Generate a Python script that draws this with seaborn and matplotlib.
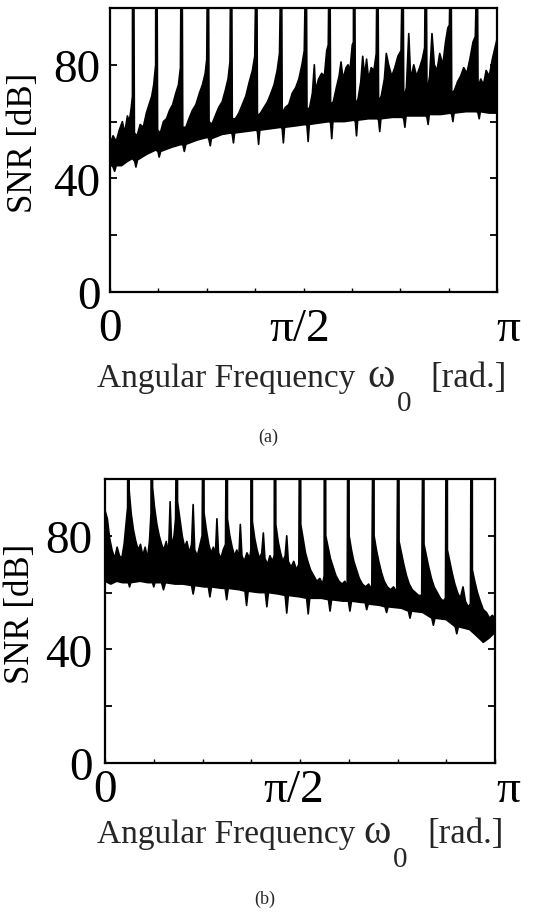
import numpy as np
import matplotlib
matplotlib.use("Agg")
import matplotlib.pyplot as plt
import seaborn as sns
from matplotlib.transforms import ScaledTranslation, IdentityTransform

sns.set_style("ticks")
plt.rcParams['font.family'] = ['Liberation Serif', 'DejaVu Serif']

# ---------------- data (x in units of pi, y in dB) ----------------
y_ticks = [0, 20, 40, 60, 80, 100]
y_tick_labels = ['0', '', '40', '', '80', '']
x_ticks = [0, 0.125, 0.25, 0.375, 0.5, 0.625, 0.75, 0.875, 1.0]
x_tick_labels = ['0', '', '', '', 'π/2', '', '', '', 'π']

# panel (a)
a_spikes = [0.060, 0.120, 0.185, 0.253, 0.313, 0.378, 0.442, 0.506, 0.567,
            0.631, 0.691, 0.756, 0.816, 0.880, 0.948]
a_upper_x = [0.000, 0.008, 0.016, 0.024, 0.032, 0.038, 0.045, 0.050, 0.055, 0.058,
             0.063, 0.070, 0.078, 0.086, 0.094, 0.101, 0.108, 0.113, 0.116, 0.118,
             0.123, 0.130, 0.138, 0.146, 0.154, 0.162, 0.170, 0.177, 0.182,
             0.188, 0.196, 0.204, 0.213, 0.222, 0.231, 0.239, 0.246, 0.250,
             0.256, 0.263, 0.272, 0.281, 0.290, 0.298, 0.305, 0.310,
             0.316, 0.324, 0.333, 0.342, 0.351, 0.360, 0.368, 0.374,
             0.381, 0.389, 0.398, 0.407, 0.416, 0.424, 0.432, 0.438,
             0.445, 0.453, 0.462, 0.471, 0.480, 0.488, 0.496, 0.502,
             0.509, 0.516, 0.523, 0.528, 0.531, 0.539, 0.547, 0.554, 0.560, 0.564,
             0.570, 0.577, 0.585, 0.592, 0.597, 0.602, 0.610, 0.615, 0.620, 0.626, 0.629,
             0.634, 0.641, 0.648, 0.653, 0.658, 0.663, 0.668, 0.675, 0.682, 0.688,
             0.694, 0.701, 0.709, 0.714, 0.720, 0.728, 0.736, 0.744, 0.752,
             0.759, 0.766, 0.772, 0.777, 0.785, 0.792, 0.800, 0.807, 0.813,
             0.819, 0.826, 0.832, 0.838, 0.845, 0.852, 0.860, 0.867, 0.873, 0.877,
             0.883, 0.890, 0.898, 0.906, 0.914, 0.922, 0.930, 0.938, 0.944,
             0.951, 0.958, 0.965, 0.972, 0.980, 0.988, 0.995, 1.000]
a_upper_db = [52, 55, 53, 57, 60, 56, 62, 60, 65, 69,
              56, 55, 59, 58, 63, 66, 69, 73, 77, 80,
              57, 56, 60, 61, 64, 66, 70, 73, 79,
              58, 58, 61, 64, 66, 70, 73, 77, 82,
              60, 59, 62, 65, 67, 71, 75, 81,
              61, 61, 63, 66, 69, 74, 78, 83,
              62, 63, 65, 67, 70, 73, 78, 84,
              63, 65, 66, 70, 72, 75, 80, 85,
              64, 65, 70, 80, 71, 75, 77, 76, 85, 87,
              66, 67, 72, 76, 81, 75, 79, 80, 78, 87, 88,
              66, 68, 74, 83, 76, 82, 75, 79, 78, 84,
              67, 69, 75, 84, 80, 76, 79, 83, 85,
              68, 72, 91, 75, 80, 76, 79, 82, 86,
              70, 76, 91, 80, 78, 84, 80, 88, 93, 94,
              70, 71, 74, 76, 79, 77, 82, 88, 90,
              72, 75, 73, 78, 76, 82, 86, 89]
a_lower_x = [0.000, 0.008, 0.012, 0.016, 0.030, 0.045, 0.058, 0.064, 0.067, 0.071,
             0.095, 0.118, 0.124, 0.127, 0.131, 0.160, 0.185, 0.189, 0.192, 0.196,
             0.225, 0.253, 0.256, 0.259, 0.262, 0.290, 0.313, 0.316, 0.319, 0.322,
             0.350, 0.378, 0.381, 0.384, 0.387, 0.415, 0.442, 0.445, 0.448, 0.451,
             0.480, 0.506, 0.509, 0.512, 0.515, 0.540, 0.567, 0.570, 0.573, 0.576,
             0.605, 0.631, 0.634, 0.637, 0.640, 0.668, 0.691, 0.694, 0.697, 0.700,
             0.730, 0.756, 0.759, 0.762, 0.765, 0.792, 0.816, 0.819, 0.822, 0.825,
             0.855, 0.880, 0.883, 0.886, 0.889, 0.920, 0.948, 0.951, 0.954, 0.957,
             0.980, 1.000]
a_lower_db = [45, 44, 42.5, 44.5, 44.5, 46, 47, 46, 44, 46.5,
              48.5, 50, 49.5, 47.5, 49.5, 51, 52, 51.5, 49.5, 52,
              53.5, 54.5, 53.5, 51.5, 54, 55.5, 56, 55.5, 52.5, 56,
              56.5, 57, 56.5, 52, 57, 57.5, 58, 57.5, 52.5, 58,
              58.5, 59, 58.5, 53, 59, 59.5, 60, 59.5, 54, 60,
              60, 60.5, 60, 55, 60.5, 61, 61, 60.5, 56.5, 61,
              61.5, 61.5, 61, 58, 62, 62, 62, 61.5, 59, 62.5,
              62.5, 63, 62.5, 60, 63, 63.5, 63.5, 63, 61, 63.5,
              63, 63]

# panel (b)
b_spikes = [0.060, 0.120, 0.184, 0.252, 0.312, 0.376, 0.436, 0.500, 0.564,
            0.624, 0.688, 0.752, 0.816, 0.876, 0.940]
b_upper_x = [0.000, 0.006, 0.012, 0.018, 0.025, 0.031, 0.037, 0.043, 0.049, 0.054, 0.058,
             0.062, 0.067, 0.073, 0.079, 0.085, 0.091, 0.097, 0.103, 0.109, 0.114, 0.118,
             0.122, 0.127, 0.133, 0.139, 0.145, 0.151, 0.157, 0.163, 0.167, 0.171, 0.177, 0.181,
             0.186, 0.192, 0.198, 0.204, 0.210, 0.216, 0.222, 0.226, 0.230, 0.237, 0.244, 0.249,
             0.254, 0.260, 0.266, 0.272, 0.278, 0.283, 0.287, 0.291, 0.297, 0.303, 0.309,
             0.314, 0.320, 0.326, 0.332, 0.338, 0.343, 0.347, 0.351, 0.357, 0.364, 0.371, 0.374,
             0.378, 0.384, 0.390, 0.396, 0.402, 0.406, 0.410, 0.417, 0.423, 0.429, 0.434,
             0.438, 0.444, 0.450, 0.456, 0.462, 0.466, 0.470, 0.477, 0.484, 0.491, 0.497,
             0.502, 0.508, 0.514, 0.520, 0.527, 0.535, 0.543, 0.551, 0.558, 0.562,
             0.566, 0.572, 0.578, 0.585, 0.592, 0.600, 0.608, 0.615, 0.621,
             0.626, 0.632, 0.638, 0.645, 0.652, 0.660, 0.668, 0.676, 0.684,
             0.690, 0.696, 0.702, 0.709, 0.716, 0.724, 0.732, 0.740, 0.748,
             0.754, 0.760, 0.766, 0.773, 0.780, 0.788, 0.796, 0.804, 0.812,
             0.818, 0.824, 0.830, 0.837, 0.844, 0.852, 0.860, 0.867, 0.873,
             0.878, 0.884, 0.890, 0.897, 0.904, 0.911, 0.918, 0.924, 0.931, 0.937,
             0.942, 0.948, 0.955, 0.962, 0.970, 0.978, 0.986, 0.993, 1.000]
b_upper_db = [89, 86, 79, 75, 72, 76, 73, 72, 77, 84, 90,
              96, 88, 82, 78, 75, 77, 73, 76, 72, 78, 88,
              97, 90, 84, 80, 77, 75, 78, 74, 92, 76, 80, 86,
              92, 86, 80, 76, 78, 74, 77, 91, 75, 73, 77, 80,
              88, 82, 77, 74, 76, 73, 86, 74, 72, 75, 77,
              86, 80, 76, 73, 75, 72, 84, 73, 71, 74, 72, 75,
              85, 79, 75, 72, 74, 81, 72, 70, 73, 71, 73,
              84, 78, 74, 71, 73, 80, 71, 69, 71, 68, 70,
              84, 79, 74, 71, 68, 66, 64, 65, 63, 66,
              80, 76, 72, 69, 66, 64, 63, 64, 62,
              80, 75, 71, 68, 65, 63, 62, 63, 61,
              80, 75, 71, 67, 64, 62, 61, 62, 60,
              78, 74, 70, 66, 63, 61, 60, 59, 59,
              77, 73, 69, 65, 62, 60, 58, 57, 58,
              75, 71, 67, 63, 60, 58, 62, 57, 55, 56,
              68, 64, 60, 57, 54, 53, 51, 52, 51]
b_lower_x = [0.000, 0.015, 0.030, 0.045, 0.060, 0.063, 0.066, 0.090, 0.110, 0.122,
             0.125, 0.128, 0.145, 0.150, 0.155, 0.180, 0.200, 0.222, 0.226, 0.230,
             0.255, 0.265, 0.269, 0.273, 0.300, 0.308, 0.312, 0.316, 0.345, 0.359,
             0.363, 0.367, 0.395, 0.411, 0.415, 0.419, 0.445, 0.462, 0.466, 0.470,
             0.500, 0.517, 0.521, 0.525, 0.555, 0.573, 0.577, 0.581, 0.610, 0.624,
             0.628, 0.632, 0.660, 0.667, 0.671, 0.675, 0.705, 0.718, 0.722, 0.726,
             0.760, 0.778, 0.782, 0.786, 0.815, 0.838, 0.842, 0.846, 0.875, 0.898,
             0.902, 0.906, 0.935, 0.955, 0.970, 0.985, 1.000]
b_lower_db = [64, 63, 64, 63.5, 63.5, 62, 63.5, 64, 63.5, 63.5,
              62, 63.5, 63.5, 61, 63.5, 63, 63, 62.5, 59.5, 62.5,
              62, 62, 58.5, 62, 61.5, 61.5, 57.5, 61.5, 61, 60.5,
              55.5, 60.5, 60, 60, 55, 60, 59.5, 59, 52.8, 59,
              58.5, 58, 52.5, 58, 58, 57.5, 53.5, 57.5, 57, 57,
              53.5, 57, 56.5, 56.5, 54, 56, 55.5, 55, 53, 55,
              54.5, 53.5, 51, 53.5, 53, 51, 48.5, 51, 50.5, 48,
              45.5, 48, 47, 44.5, 42.5, 44, 46]

panels = [
    dict(spikes=a_spikes, ux=a_upper_x, uy=a_upper_db, lx=a_lower_x, ly=a_lower_db,
         rect=[110 / 538, 1 - 293 / 920, 387 / 538, 284 / 920],
         xpad=11, ypad=7, pi_shift=11, half_shift=-4, ylab=(-0.181, 0.53),
         xlab_base=920 - 387, xlab_x=(97, 367, 397, 430), caption='(a)', cap_xy=(268, 437)),
    dict(spikes=b_spikes, ux=b_upper_x, uy=b_upper_db, lx=b_lower_x, ly=b_lower_db,
         rect=[105 / 538, 1 - 764 / 920, 390 / 538, 284 / 920],
         xpad=4, ypad=9, pi_shift=13, half_shift=-6, ylab=(-0.174, 0.53),
         xlab_base=920 - 843, xlab_x=(97, 363, 393, 427), caption='(b)', cap_xy=(265, 899)),
]

fig = plt.figure(figsize=(5.38, 9.2), dpi=100)
fig.patch.set_facecolor('white')

for p in panels:
    ax = fig.add_axes(p['rect'])
    ax.set_facecolor('white')
    # upper edge with the spikes that run off the top of the axes
    pts = list(zip(p['ux'], p['uy']))
    for s in p['spikes']:
        pts.append((s - 0.0018, 104))
        pts.append((s + 0.0018, 104))
    pts.sort(key=lambda t: t[0])
    upx = [t[0] * np.pi for t in pts]
    upy = [t[1] for t in pts]
    lox = [v * np.pi for v in p['lx']]
    loy = list(p['ly'])
    ax.fill(upx + lox[::-1], upy + loy[::-1], color='black', lw=0, zorder=2)
    sns.lineplot(x=upx, y=upy, ax=ax, sort=False, estimator=None, color='black', lw=1.2, zorder=3)
    sns.lineplot(x=lox, y=loy, ax=ax, sort=False, estimator=None, color='black', lw=1.2, zorder=3)

    ax.set_xlim(0, np.pi)
    ax.set_ylim(0, 100)
    ax.set_yticks(y_ticks)
    ax.set_yticklabels(y_tick_labels, fontsize=34)
    ax.set_xticks([v * np.pi for v in x_ticks])
    ax.set_xticklabels(x_tick_labels, fontsize=34)
    ax.tick_params(axis='y', direction='in', length=5, width=1.3, left=True, right=True,
                   pad=p['ypad'], colors='black')
    ax.tick_params(axis='x', direction='in', length=3, width=1.0, bottom=True, top=False,
                   pad=p['xpad'], colors='black')
    for sp in ax.spines.values():
        sp.set_visible(True)
        sp.set_linewidth(1.6)
        sp.set_color('black')
    labels = ax.get_xticklabels()
    labels[-1].set_transform(labels[-1].get_transform() +
                             ScaledTranslation(p['pi_shift'] / 100, 0, fig.dpi_scale_trans))
    labels[4].set_transform(labels[4].get_transform() +
                            ScaledTranslation(p['half_shift'] / 100, 0, fig.dpi_scale_trans))
    ax.set_ylabel('SNR [dB]', fontsize=25, color='black')
    ax.yaxis.set_label_coords(*p['ylab'])

    # x-axis label composed of pieces (large omega with a big subscript)
    base = p['xlab_base']
    x0, xw, xs, xr = p['xlab_x']
    idt = IdentityTransform()
    fig.text(x0, base, 'Angular Frequency', fontsize=24, ha='left', va='baseline', transform=idt)
    fig.text(xw, base, 'ω', fontsize=30, ha='left', va='baseline', transform=idt)
    fig.text(xs, base - 24, '0', fontsize=21, ha='left', va='baseline', transform=idt)
    fig.text(xr, base, '[rad.]', fontsize=25, ha='left', va='baseline', transform=idt)
    cx, cy = p['cap_xy']
    fig.text(cx, 920 - cy, p['caption'], fontsize=13, ha='center', va='center', transform=idt)

fig.savefig('out.png', dpi=100, facecolor='white')
